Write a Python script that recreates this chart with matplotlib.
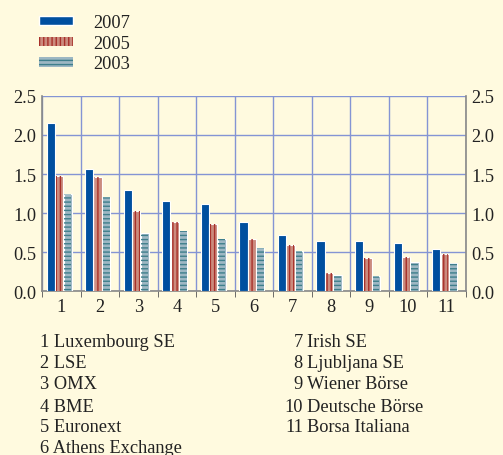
import numpy as np
import matplotlib
matplotlib.use("Agg")
import matplotlib.pyplot as plt
from matplotlib.patches import Patch

# data
categories = [str(i) for i in range(1, 12)]
v2007 = [2.16, 1.57, 1.30, 1.15, 1.12, 0.88, 0.72, 0.64, 0.64, 0.61, 0.54]
v2005 = [1.47, 1.46, 1.02, 0.89, 0.855, 0.67, 0.59, 0.23, 0.42, 0.44, 0.47]
v2003 = [1.25, 1.20, 0.74, 0.765, 0.67, 0.55, 0.51, 0.21, 0.19, 0.37, 0.36]
names = ["Luxembourg SE", "LSE", "OMX", "BME", "Euronext", "Athens Exchange",
         "Irish SE", "Ljubljana SE", "Wiener Börse", "Deutsche Börse", "Borsa Italiana"]

BG = "#FFFADF"
BLUE = "#004F9F"
RED = "#CB8B7E"
RED_H = "#A8302A"
GREY = "#9DB7C3"
GREY_H = "#3F7F8C"
GRID = "#8494D4"
TXT = "#222222"
FS = 13.2

plt.rcParams["font.family"] = ["Liberation Serif", "DejaVu Serif"]
plt.rcParams["hatch.linewidth"] = 1.0

fig = plt.figure(figsize=(5.03, 4.56), dpi=100, facecolor=BG)
ax = fig.add_axes([0.0835, 0.3596, 0.8425, 0.4277])
ax.set_facecolor(BG)

x = np.arange(1, len(categories) + 1)
w = 0.21
series = [(v2007, BLUE, None, None, -0.27),
          (v2005, RED, "||||", RED_H, -0.05),
          (v2003, GREY, "----", GREY_H, 0.17)]
for vals, col, hatch, hcol, off in series:
    ax.bar(x + off, vals, width=w, color=col, edgecolor="white", linewidth=0.8, zorder=3)
    if hatch:
        ax.bar(x + off, vals, width=w * 0.85, color="none", edgecolor=hcol,
               hatch=hatch, linewidth=0, zorder=4)

ax.set_xlim(0.5, 11.5)
ax.set_ylim(0, 2.5)
ax.set_yticks(np.arange(0, 2.51, 0.5))
ax.set_yticklabels([f"{t:.1f}" for t in np.arange(0, 2.51, 0.5)])
ax.set_xticks(x)
ax.set_xticklabels(categories)
ax.set_xticks(np.arange(0.5, 11.6, 1), minor=True)

ax.grid(axis="y", color=GRID, linewidth=1.0, zorder=0)
ax.grid(axis="x", which="minor", color=GRID, linewidth=1.0, zorder=0)
ax.tick_params(axis="x", which="major", length=0, labelsize=FS, colors=TXT, pad=5)
ax.tick_params(axis="x", which="minor", length=4, color="#555555", direction="out")
ax.tick_params(axis="y", length=0, labelsize=FS, colors=TXT, labelright=True, pad=4)

ax.spines["top"].set_visible(False)
for s in ["left", "right", "bottom"]:
    ax.spines[s].set_color("#888888")
    ax.spines[s].set_linewidth(1.2)

# legend
handles = [Patch(facecolor=BLUE, edgecolor="white"),
           Patch(facecolor=RED, edgecolor=RED_H, hatch="||||", linewidth=0),
           Patch(facecolor=GREY, edgecolor=GREY_H, hatch="----", linewidth=0)]
leg = fig.legend(handles, ["2007", "2005", "2003"], loc="upper left",
                 bbox_to_anchor=(0.045, 1.003), frameon=False, fontsize=FS,
                 handlelength=1.85, handleheight=0.42, labelspacing=0.2,
                 handletextpad=1.1)
for t in leg.get_texts():
    t.set_color(TXT)

# name key below the chart
row_y = [343, 364, 385, 407, 428, 449]
for i, name in enumerate(names):
    if i < 6:
        y = 1 - row_y[i] / 456
        fig.text(40 / 503, y, f"{i + 1} {name}", fontsize=FS, color=TXT, va="center", ha="left")
    else:
        y = 1 - row_y[i - 6] / 456
        fig.text(303 / 503, y, f"{i + 1}", fontsize=FS, color=TXT, va="center", ha="right")
        fig.text(307 / 503, y, name, fontsize=FS, color=TXT, va="center", ha="left")

fig.savefig("out.png", dpi=100, facecolor=BG)
